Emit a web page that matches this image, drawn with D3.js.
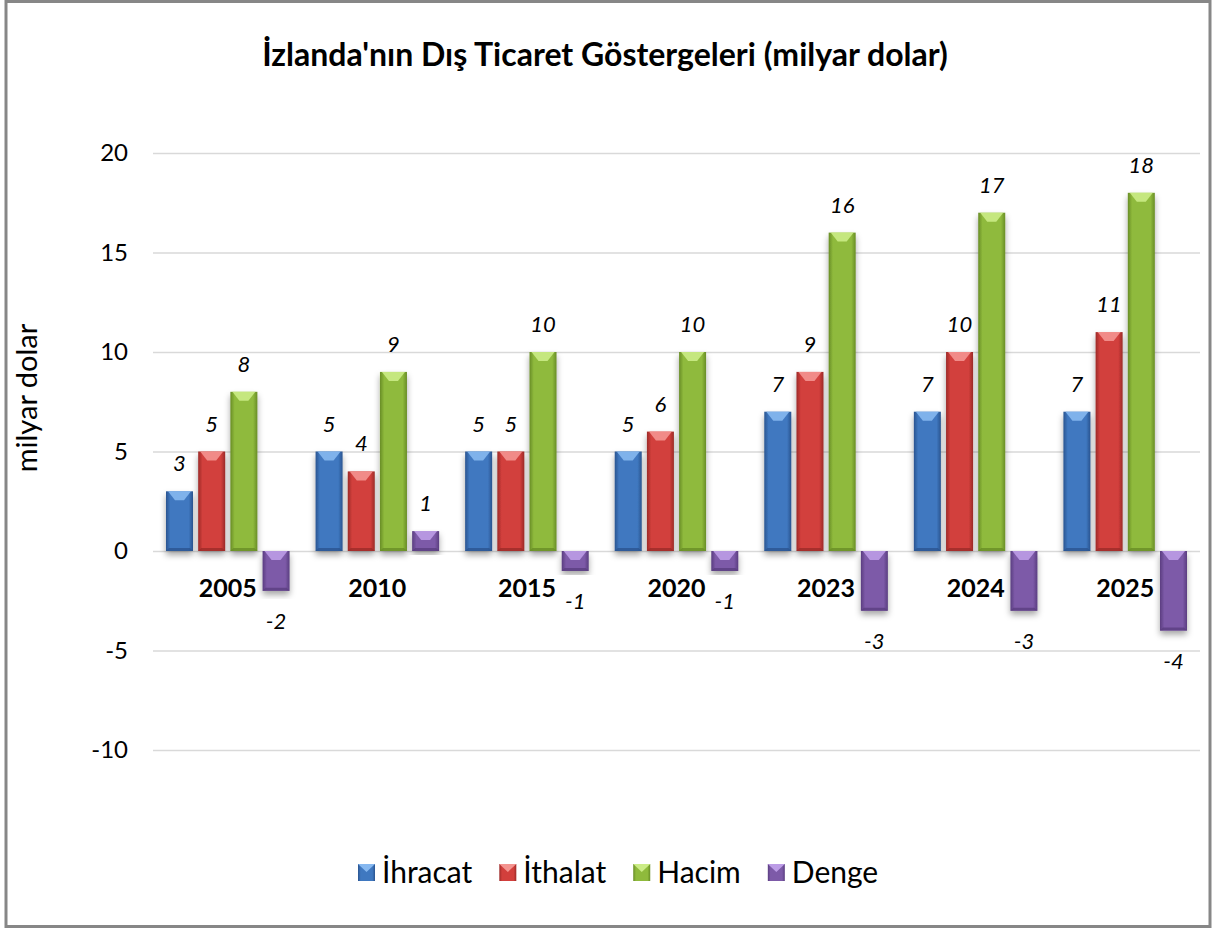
<!DOCTYPE html>
<html>
<head>
<meta charset="utf-8">
<script src="https://cdn.jsdelivr.net/npm/d3@7"></script>
<style>
  body { margin: 0; background: #fff; }
  text { font-family: Lato, "Open Sans", sans-serif; fill: #000; }
</style>
</head>
<body>
<svg width="1214" height="930"></svg>
<script>
const years = ['2005', '2010', '2015', '2020', '2023', '2024', '2025'];
const ihracat = [3, 5, 5, 5, 7, 7, 7];
const ithalat = [5, 4, 5, 6, 9, 10, 11];
const hacim = [8, 9, 10, 10, 16, 17, 18];
const denge = [-2, 1, -1, -1, -3, -3, -4];
const seriesNames = ['İhracat', 'İthalat', 'Hacim', 'Denge'];
const yTicks = [-10, -5, 0, 5, 10, 15, 20];

const colors = {
  'İhracat': { main: '#3f78c0', dark: '#2a5490', light: '#86b8f0' },
  'İthalat': { main: '#d23f3c', dark: '#9c2a28', light: '#f49490' },
  'Hacim':   { main: '#8fba3c', dark: '#688d26', light: '#cbec86' },
  'Denge':   { main: '#7d5aa8', dark: '#5a3d80', light: '#bc9ce6' }
};

const svg = d3.select('svg');
const width = +svg.attr('width');
const height = +svg.attr('height');

// frame
svg.append('rect')
  .attr('x', 6).attr('y', 1.5)
  .attr('width', width - 10).attr('height', height - 5)
  .attr('fill', '#fff')
  .attr('stroke', '#878787')
  .attr('stroke-width', 3);

const plotLeft = 153;
const plotWidth = 1047;

const xScale = d3.scaleBand()
  .domain(years)
  .range([plotLeft, plotLeft + plotWidth]);

const yScale = d3.scaleLinear()
  .domain([-10, 20])
  .range([750, 153]);

const defs = svg.append('defs');
seriesNames.forEach((name, i) => {
  const c = colors[name];
  const grad = defs.append('linearGradient')
    .attr('id', 'grad' + i)
    .attr('x1', '0').attr('x2', '1').attr('y1', '0').attr('y2', '0');
  grad.append('stop').attr('offset', '0%').attr('stop-color', c.dark);
  grad.append('stop').attr('offset', '16%').attr('stop-color', c.main);
  grad.append('stop').attr('offset', '84%').attr('stop-color', c.main);
  grad.append('stop').attr('offset', '100%').attr('stop-color', c.dark);
});
const shadow = defs.append('filter').attr('id', 'shadow')
  .attr('x', '-30%').attr('y', '-10%').attr('width', '160%').attr('height', '130%');
shadow.append('feDropShadow')
  .attr('dx', 0).attr('dy', 4).attr('stdDeviation', 3)
  .attr('flood-color', '#000').attr('flood-opacity', 0.35);

// gridlines + y axis
const g = svg.append('g');
const yAxis = d3.axisLeft(yScale)
  .tickValues(yTicks)
  .tickSize(-plotWidth)
  .tickPadding(25)
  .tickFormat(d => String(d));
const yAxisG = g.append('g')
  .attr('transform', `translate(${plotLeft},0)`)
  .call(yAxis);
yAxisG.select('.domain').remove();
yAxisG.selectAll('.tick line').attr('stroke', '#d9d9d9').attr('stroke-width', 1.5);
yAxisG.selectAll('.tick text')
  .style('font-size', '24px')
  .style('font-family', 'Lato, "Open Sans", sans-serif')
  .attr('fill', '#000');

// axis label
svg.append('text')
  .attr('transform', `translate(37,398) rotate(-90)`)
  .attr('text-anchor', 'middle')
  .style('font-size', '29px')
  .text('milyar dolar');

// title
svg.append('text')
  .attr('x', 605).attr('y', 66)
  .attr('text-anchor', 'middle')
  .style('font-size', '32px')
  .style('font-weight', 'bold')
  .text("İzlanda'nın Dış Ticaret Göstergeleri (milyar dolar)");

const seriesData = [ihracat, ithalat, hacim, denge];
const bandPad = 13;
const barW = 27;
const step = (xScale.bandwidth() - 2 * bandPad - barW) / 3;

seriesData.forEach((vals, si) => {
  const name = seriesNames[si];
  const c = colors[name];
  const bars = g.append('g').selectAll('g')
    .data(vals.map((v, i) => ({ v, year: years[i] })))
    .join('g');

  bars.each(function (d) {
    const sel = d3.select(this);
    const x = xScale(d.year) + bandPad + si * step;
    const y0 = yScale(0);
    const y1 = yScale(d.v);
    const top = Math.min(y0, y1);
    const h = Math.abs(y1 - y0);
    sel.append('rect')
      .attr('x', x).attr('y', top)
      .attr('width', barW).attr('height', h)
      .attr('fill', `url(#grad${si})`)
      .attr('filter', 'url(#shadow)');
    const bev = Math.min(9, h / 2);
    sel.append('path')
      .attr('d', `M${x + 2},${top}L${x + barW - 2},${top}L${x + barW - bev},${top + bev}L${x + bev},${top + bev}Z`)
      .attr('fill', c.light)
      .attr('opacity', 0.9);
    sel.append('path')
      .attr('d', `M${x},${top + h}L${x + barW},${top + h}L${x + barW - 3},${top + h - 3}L${x + 3},${top + h - 3}Z`)
      .attr('fill', c.dark)
      .attr('opacity', 0.8);

    sel.append('text')
      .attr('x', x + barW / 2)
      .attr('y', d.v >= 0 ? y1 - 20 : y1 + 38)
      .attr('text-anchor', 'middle')
      .style('font-size', '22px')
      .style('font-style', 'italic')
      .text(d.v);
  });
});

// category labels
g.append('g').selectAll('text')
  .data(years)
  .join('text')
  .attr('x', d => xScale(d) + xScale.bandwidth() / 2)
  .attr('y', yScale(0) + 46)
  .attr('text-anchor', 'middle')
  .style('font-size', '25px')
  .style('font-weight', 'bold')
  .text(d => d);

// legend
const legend = svg.append('g');
let lx = 358;
seriesNames.forEach((name, i) => {
  const c = colors[name];
  const item = legend.append('g').attr('transform', `translate(${lx},864)`);
  item.append('rect')
    .attr('width', 17).attr('height', 17)
    .attr('fill', `url(#grad${i})`);
  item.append('path')
    .attr('d', 'M0,0L17,0L8.5,8Z')
    .attr('fill', c.light);
  const t = item.append('text')
    .attr('x', 24).attr('y', 19)
    .style('font-size', '30px')
    .text(name);
  lx += 24 + t.node().getComputedTextLength() + 27;
});
</script>
</body>
</html>
